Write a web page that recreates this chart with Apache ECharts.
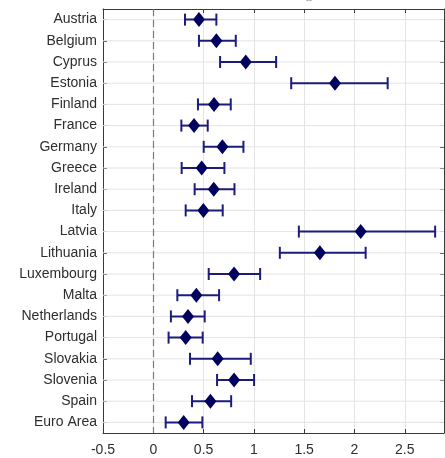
<!DOCTYPE html>
<html>
<head>
<meta charset="utf-8">
<script src="https://cdn.jsdelivr.net/npm/echarts@6/dist/echarts.min.js"></script>
<style>html,body{margin:0;padding:0;background:#fff;}#c{width:445px;height:458px;}</style>
</head>
<body>
<div id="c"></div>
<script>
const countries = ["Austria","Belgium","Cyprus","Estonia","Finland","France","Germany","Greece","Ireland","Italy","Latvia","Lithuania","Luxembourg","Malta","Netherlands","Portugal","Slovakia","Slovenia","Spain","Euro Area"];
const estimate = [0.454,0.627,0.919,1.806,0.604,0.405,0.687,0.481,0.601,0.498,2.062,1.656,0.803,0.428,0.345,0.322,0.640,0.803,0.568,0.302];
const lower    = [0.315,0.454,0.664,1.371,0.444,0.279,0.501,0.282,0.411,0.322,1.447,1.258,0.551,0.239,0.175,0.152,0.365,0.634,0.385,0.123];
const upper    = [0.627,0.820,1.221,2.330,0.770,0.541,0.896,0.707,0.807,0.690,2.802,2.111,1.062,0.654,0.511,0.491,0.969,1.002,0.774,0.488];
const xTicks = [-0.5,0,0.5,1,1.5,2,2.5];

const chart = echarts.init(document.getElementById('c'), null, {renderer:'canvas'});
const axisColor = '#3a3a3a';
const textColor = '#2e2e2e';
const gridColor = '#e4e4e4';
const font = 'Liberation Sans, Arial, sans-serif';

const errData = countries.map((c,i)=>[lower[i], upper[i], i]);
const ptData = countries.map((c,i)=>[estimate[i], i]);

const catAxisBase = {
  type:'category', data:countries, inverse:true, boundaryGap:true
};
const valAxisBase = {
  type:'value', min:xTicks[0], max:2.89, interval:0.5
};

chart.setOption({
  animation:false,
  graphic:[{type:'text', left:306, top:-4, style:{text:'--', fill:'#888', font:'9px '+font}}],
  grid:{left:103, right:1, top:9, bottom:25, containLabel:false, outerBoundsMode:'none'},
  xAxis:[
    Object.assign({}, valAxisBase, {
      position:'bottom',
      axisLine:{show:true, onZero:false, lineStyle:{color:axisColor, width:1}},
      axisTick:{show:true, inside:true, length:4, lineStyle:{color:axisColor}},
      axisLabel:{color:textColor, fontSize:14, fontFamily:font, margin:10, showMaxLabel:false,
        formatter:v=>String(v)},
      splitLine:{show:true, lineStyle:{color:gridColor, width:1}}
    }),
    Object.assign({}, valAxisBase, {
      position:'top',
      axisLine:{show:true, onZero:false, lineStyle:{color:axisColor, width:1}},
      axisTick:{show:true, inside:true, length:4, lineStyle:{color:axisColor}},
      axisLabel:{show:false},
      splitLine:{show:false}
    })
  ],
  yAxis:[
    Object.assign({}, catAxisBase, {
      position:'left',
      axisLine:{show:true, onZero:false, lineStyle:{color:axisColor, width:1}},
      axisTick:{show:true, inside:true, length:4, alignWithLabel:true, interval:0, lineStyle:{color:axisColor}},
      axisLabel:{color:textColor, fontSize:14, fontFamily:font, margin:6, interval:0},
      splitLine:{show:false}
    }),
    Object.assign({}, catAxisBase, {
      position:'right',
      axisLine:{show:true, onZero:false, lineStyle:{color:axisColor, width:1}},
      axisTick:{show:true, inside:true, length:4, alignWithLabel:true, interval:0, lineStyle:{color:axisColor}},
      axisLabel:{show:false},
      splitLine:{show:false}
    })
  ],
  series:[
    {
      type:'custom',
      xAxisIndex:0, yAxisIndex:0,
      data:errData,
      encode:{x:[0,1], y:2},
      z:1,
      renderItem:function(params, api){
        const cs = params.coordSys;
        const y = api.coord([0, api.value(2)])[1];
        return {type:'line', shape:{x1:cs.x, y1:y, x2:cs.x+cs.width, y2:y},
          style:{stroke:gridColor, lineWidth:1}};
      }
    },
    {
      type:'custom',
      xAxisIndex:0, yAxisIndex:0,
      data:errData,
      encode:{x:[0,1], y:2},
      z:3,
      renderItem:function(params, api){
        const y = api.value(2);
        const a = api.coord([api.value(0), y]);
        const b = api.coord([api.value(1), y]);
        const h = 6;
        const st = {stroke:'#1c1c7c', lineWidth:2};
        return {type:'group', children:[
          {type:'line', shape:{x1:a[0], y1:a[1], x2:b[0], y2:b[1]}, style:st},
          {type:'line', shape:{x1:a[0], y1:a[1]-h, x2:a[0], y2:a[1]+h}, style:st},
          {type:'line', shape:{x1:b[0], y1:b[1]-h, x2:b[0], y2:b[1]+h}, style:st}
        ]};
      }
    },
    {
      type:'scatter',
      xAxisIndex:0, yAxisIndex:0,
      data:ptData,
      symbol:'diamond',
      symbolSize:[12,15],
      itemStyle:{color:'#00005e', opacity:1},
      z:4,
      markLine:{
        silent:true, symbol:['none','none'], label:{show:false},
        lineStyle:{color:'#7a7a7a', type:[7,4], width:1.2},
        data:[{xAxis:0}]
      }
    }
  ]
});
</script>
</body>
</html>
